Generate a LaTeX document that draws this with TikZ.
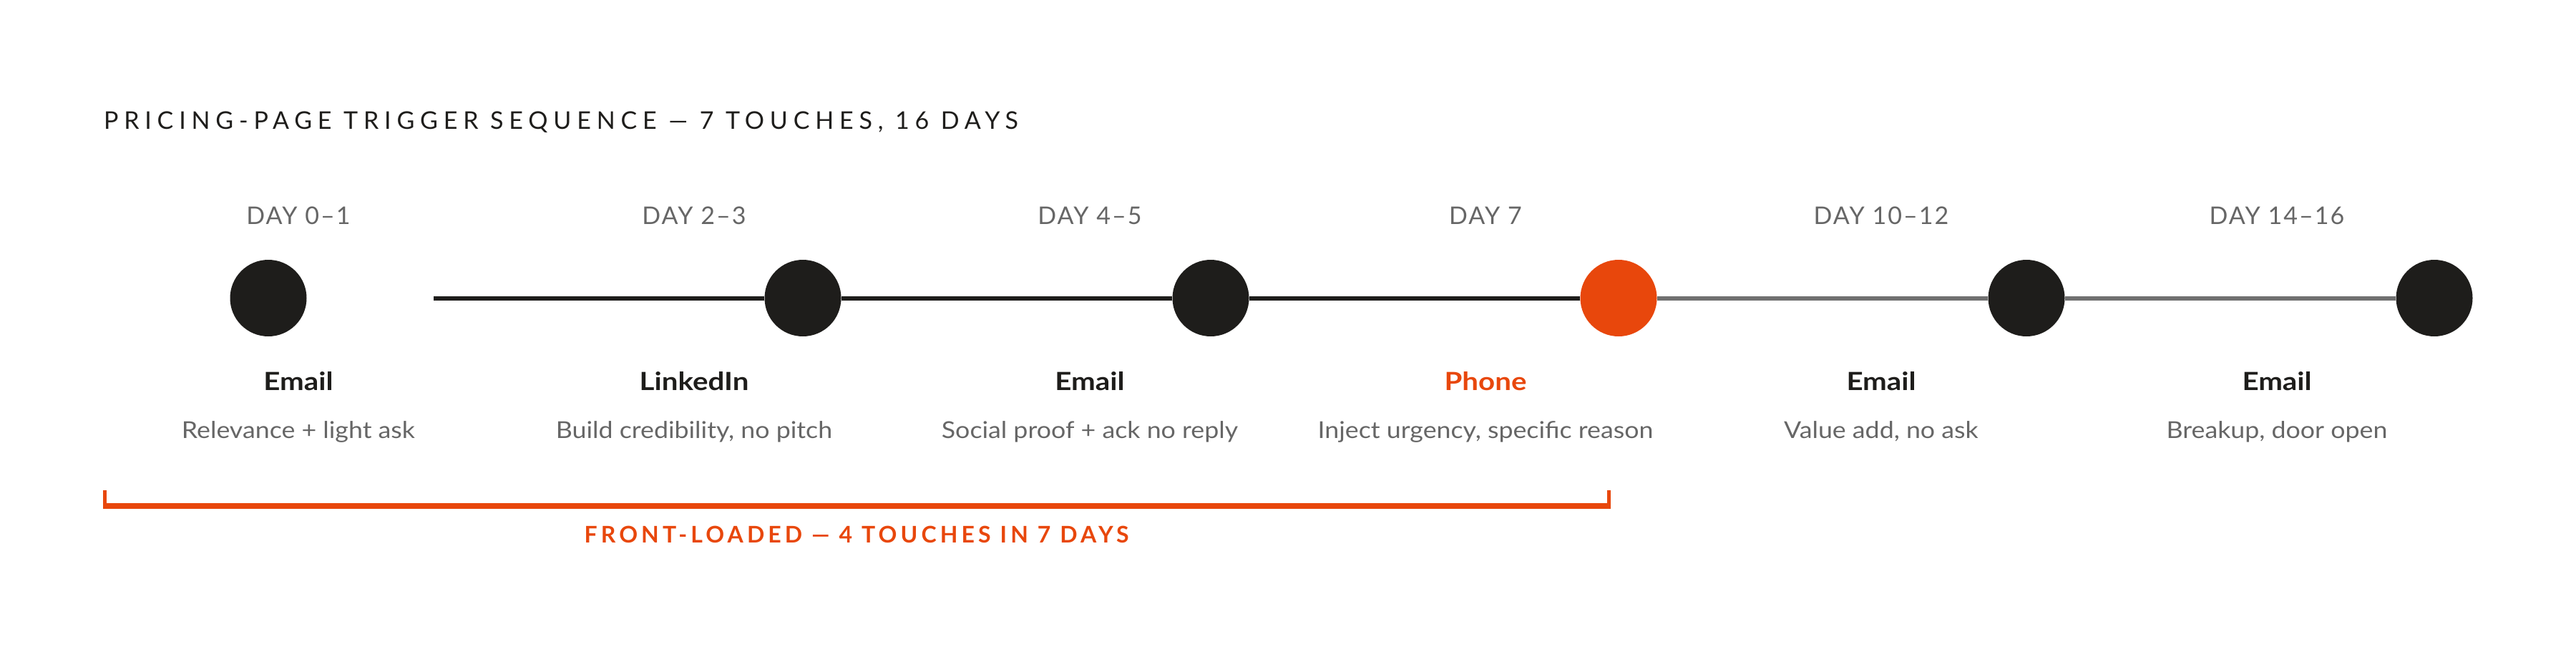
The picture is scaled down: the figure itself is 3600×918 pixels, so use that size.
\documentclass[tikz,border=0pt]{standalone}
\usepackage{fontspec}
\setmainfont{Lato}
\newfontfamily\titlefont[LetterSpace=23]{Lato}
\newfontfamily\dayfont[LetterSpace=6]{Lato}
\newfontfamily\footfont[LetterSpace=16]{Lato}
\newfontfamily\chanfont[FakeStretch=1.15]{Lato}
\newfontfamily\descfont[FakeStretch=1.10]{Lato}
\definecolor{ink}{HTML}{1E1D1B}
\definecolor{accent}{HTML}{E8470C}
\definecolor{muted}{HTML}{666666}
\definecolor{lightline}{HTML}{707070}
\tikzset{
  dot/.style={circle, fill=ink, minimum size=107pt, inner sep=0pt},
  hotdot/.style={dot, fill=accent},
  txt/.style={anchor=base, inner sep=0pt, outer sep=0pt},
  daylabel/.style={txt, text=muted, font=\dayfont\fontsize{34}{40}\selectfont},
  channel/.style={txt, text=ink, font=\chanfont\bfseries\fontsize{35}{42}\selectfont},
  desc/.style={txt, text=muted, font=\descfont\fontsize{32.5}{40}\selectfont},
  darkline/.style={draw=ink, line width=6pt},
  greyline/.style={draw=lightline, line width=6pt},
  bracket/.style={draw=accent, line width=5pt},
}
\begin{document}
\begin{tikzpicture}[x=1pt,y=-1pt]
\useasboundingbox (0,0) rectangle (3600,918);
% title
\node[txt, anchor=base west, text=ink, font=\titlefont\fontsize{34}{40}\selectfont] (title) at (145,180) {PRICING-PAGE TRIGGER SEQUENCE — 7 TOUCHES, 16 DAYS};
% day labels
\node[daylabel] (d1) at (417,313) {DAY 0–1};
\node[daylabel] (d2) at (970,313) {DAY 2–3};
\node[daylabel] (d3) at (1523,313) {DAY 4–5};
\node[daylabel] (d4) at (2076,313) {DAY 7};
\node[daylabel] (d5) at (2629,313) {DAY 10–12};
\node[daylabel] (d6) at (3182,313) {DAY 14–16};
% dots
\coordinate (start) at (606,416.5);
\node[dot] (c1) at (375,416.5) {};
\node[dot] (c2) at (1122,416.5) {};
\node[dot] (c3) at (1692,416.5) {};
\node[hotdot] (c4) at (2262,416.5) {};
\node[dot] (c5) at (2832,416.5) {};
\node[dot] (c6) at (3402,416.5) {};
% connectors
\draw[darkline] (start) -- (c2.west);
\draw[darkline] (c2) -- (c3);
\draw[darkline] (c3) -- (c4);
\draw[greyline] (c4) -- (c5);
\draw[greyline] (c5) -- (c6);
% channels
\node[channel] (e1) at (417,545) {Email};
\node[channel] (e2) at (970,545) {LinkedIn};
\node[channel] (e3) at (1523,545) {Email};
\node[channel, text=accent] (e4) at (2076,545) {Phone};
\node[channel] (e5) at (2629,545) {Email};
\node[channel] (e6) at (3182,545) {Email};
% descriptions
\node[desc] (t1) at (417,612.5) {Relevance + light ask};
\node[desc] (t2) at (970,612.5) {Build credibility, no pitch};
\node[desc] (t3) at (1523,612.5) {Social proof + ack no reply};
\node[desc] (t4) at (2076,612.5) {Inject urgency, specific reason};
\node[desc] (t5) at (2629,612.5) {Value add, no ask};
\node[desc] (t6) at (3182,612.5) {Breakup, door open};
% bracket
\coordinate (bl) at (146,685);
\coordinate (br) at (2248,685);
\draw[bracket] (bl) -- (146,708.7) -- (2248,708.7) -- (br);
\draw[accent, line width=6pt] (144,705.7) -- (2250,705.7);
\node[txt, text=accent, font=\footfont\bfseries\fontsize{32}{38}\selectfont] (foot) at (1197,758.7) {FRONT-LOADED — 4 TOUCHES IN 7 DAYS};
\end{tikzpicture}
\end{document}
